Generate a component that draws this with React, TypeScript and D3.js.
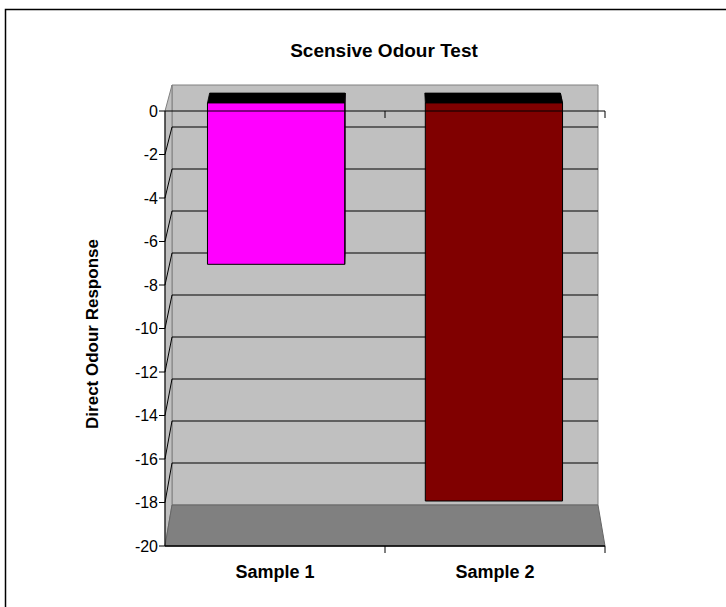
import { scaleBand, scaleLinear, line } from 'd3';

const categories = ['Sample 1', 'Sample 2'];
const responses = [-7.5, -18.5];
const barColors = ['#ff00ff', '#800000'];
const yTickValues = [0, -2, -4, -6, -8, -10, -12, -14, -16, -18, -20];
const gridValues = [-2, -4, -6, -8, -10, -12, -14, -16, -18];

const FONT = '"Liberation Sans", Arial, sans-serif';

export default function App() {
  const width = 726;
  const height = 607;

  // front plane and back wall use their own scales (3d look)
  const xFront = scaleLinear().domain([0, 2]).range([165, 605]);
  const xBack = scaleLinear().domain([0, 2]).range([172, 598]);
  const yFront = scaleLinear().domain([0, -20]).range([111, 546]);
  const yBack = scaleLinear().domain([0, -20]).range([85, 505]);

  const band = scaleBand<string>()
    .domain(categories)
    .range([0, 2])
    .paddingInner(0.37)
    .paddingOuter(0.185);

  // project (category position, value, depth 0..1) onto the page
  const P = (x: number, v: number, t: number): [number, number] => [
    xFront(x) + (xBack(x) - xFront(x)) * t,
    yFront(v) + (yBack(v) - yFront(v)) * t,
  ];
  const poly = (pts: [number, number][]) => line()(pts) + 'Z';

  const t0 = 0.31;
  const t1 = 0.69;

  const backWall = poly([P(0, 0, 1), P(2, 0, 1), P(2, -20, 1), P(0, -20, 1)]);
  const sideWall = poly([P(0, 0, 0), P(0, 0, 1), P(0, -20, 1), P(0, -20, 0)]);
  const floor = poly([P(0, -20, 0), P(2, -20, 0), P(2, -20, 1), P(0, -20, 1)]);

  return (
    <svg
      width={width}
      height={height}
      style={{ position: 'absolute', left: 0, top: 0, background: '#fff' }}
      fontFamily={FONT}>
      <rect x={5.5} y={9.5} width={760} height={640} fill='none' stroke='#000' strokeWidth={1.5} />

      <text x={384} y={57} textAnchor='middle' fontSize={19} fontWeight='bold'>
        Scensive Odour Test
      </text>

      {/* walls */}
      <path d={backWall} fill='#c0c0c0' stroke='#808080' />
      <path d={sideWall} fill='#c0c0c0' stroke='#808080' />

      {/* gridlines */}
      <g stroke='#000' strokeWidth={1}>
        {gridValues.map((v) => (
          <path key={v} d={line()([P(0, v, 0), P(0, v, 1), P(2, v, 1)]) || ''} fill='none' />
        ))}
      </g>

      <path d={floor} fill='#808080' stroke='#666' />

      {/* bars */}
      {categories.map((c, i) => {
        const x0 = band(c)!;
        const x1 = x0 + band.bandwidth();
        const v = responses[i];
        const top = poly([P(x0, 0, t0), P(x1, 0, t0), P(x1, 0, t1), P(x0, 0, t1)]);
        const right = poly([P(x1, 0, t0), P(x1, 0, t1), P(x1, v, t1), P(x1, v, t0)]);
        const front = poly([P(x0, 0, t0), P(x1, 0, t0), P(x1, v, t0), P(x0, v, t0)]);
        return (
          <g key={c}>
            <path d={right} fill={barColors[i]} stroke='#000' strokeWidth={0.8} />
            <path d={top} fill='#000' stroke='#000' strokeWidth={0.8} />
            <path d={front} fill={barColors[i]} stroke='#000' strokeWidth={1} />
          </g>
        );
      })}

      {/* value axis */}
      <g stroke='#000'>
        <line x1={xFront(0)} x2={xFront(0)} y1={yFront(0)} y2={yFront(-20)} />
        {yTickValues.map((v) => (
          <line key={v} x1={xFront(0) - 6} x2={xFront(0)} y1={yFront(v)} y2={yFront(v)} />
        ))}
      </g>
      <g fontSize={16} textAnchor='end'>
        {yTickValues.map((v) => (
          <text key={v} x={xFront(0) - 7} y={yFront(v)} dy='0.35em'>
            {v}
          </text>
        ))}
      </g>

      {/* category axis along 0 and along the floor edge */}
      <g stroke='#000'>
        {[0, -20].map((v) => (
          <g key={v}>
            <line x1={xFront(0)} x2={xFront(2)} y1={yFront(v)} y2={yFront(v)} strokeWidth={v === 0 ? 1 : 1.5} />
            {[1, 2].map((k) => (
              <line key={k} x1={xFront(k)} x2={xFront(k)} y1={yFront(v)} y2={yFront(v) + 7} />
            ))}
          </g>
        ))}
      </g>
      <g fontSize={18} fontWeight='bold' textAnchor='middle'>
        {categories.map((c) => (
          <text key={c} x={xFront(band(c)! + band.bandwidth() / 2)} y={578}>
            {c}
          </text>
        ))}
      </g>

      <text
        transform={`translate(98, 334) rotate(-90)`}
        textAnchor='middle'
        fontSize={17}
        fontWeight='bold'>
        Direct Odour Response
      </text>
    </svg>
  );
}
